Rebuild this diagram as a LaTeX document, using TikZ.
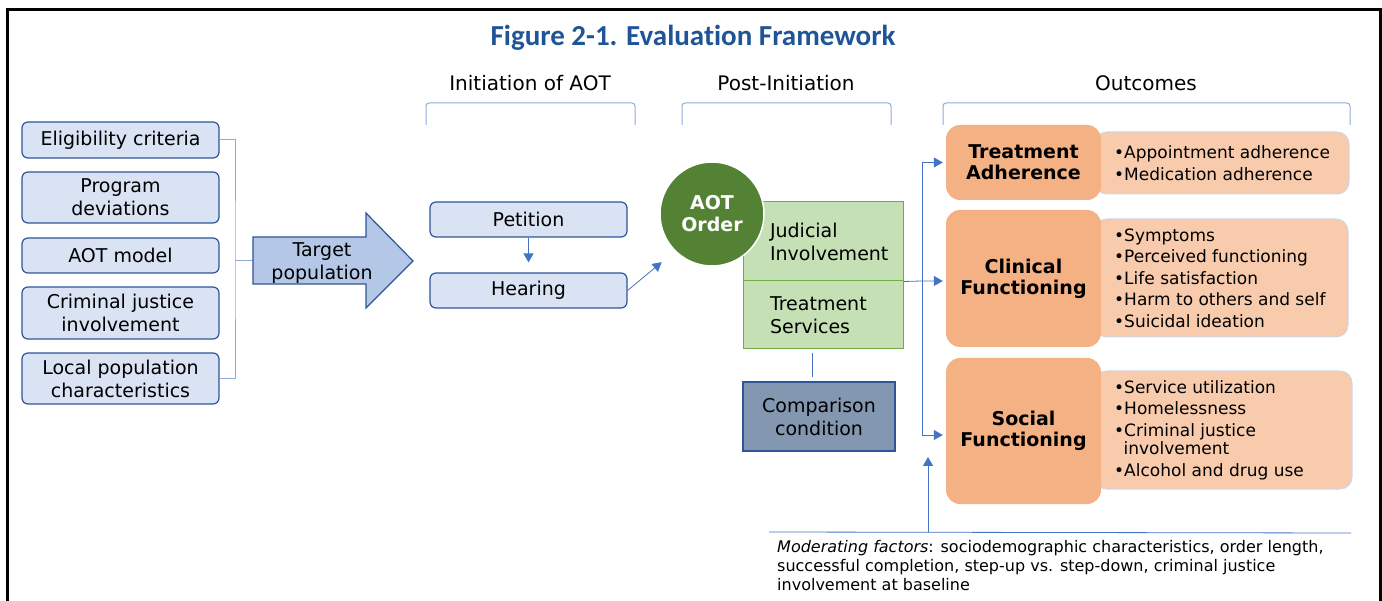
\documentclass[tikz,border=0pt]{standalone}
\usepackage{fontspec}
\setmainfont{DejaVu Sans}
\newfontfamily\titlefont[Ligatures=NoCommon]{Carlito}
\usetikzlibrary{arrows.meta}

\definecolor{titleblue}{RGB}{31,85,150}
\definecolor{boxblue}{RGB}{218,227,243}
\definecolor{edgeblue}{RGB}{47,85,151}
\definecolor{lineblue}{RGB}{143,170,220}
\definecolor{arrowblue}{RGB}{68,114,196}
\definecolor{arrowfill}{RGB}{180,199,231}
\definecolor{aotgreen}{RGB}{84,130,53}
\definecolor{lightgreen}{RGB}{197,224,180}
\definecolor{edgegreen}{RGB}{112,173,71}
\definecolor{compfill}{RGB}{132,151,176}
\definecolor{darkorange}{RGB}{244,177,131}
\definecolor{lightorange}{RGB}{248,203,173}
\definecolor{lightedge}{RGB}{205,214,234}

\begin{document}
\begin{tikzpicture}[x=1pt,y=-1pt,
	font=\fontsize{19}{23}\selectfont,
	inbox/.style={draw=edgeblue,fill=boxblue,rounded corners=6pt,line width=1.2pt,align=center,inner sep=0pt},
	greenbox/.style={draw=edgegreen,fill=lightgreen,line width=1pt,minimum width=160pt,text width=106pt,align=left,inner sep=0pt},
	outbox/.style={fill=darkorange,rounded corners=14pt,minimum width=155pt,align=center,font=\fontsize{19}{21}\selectfont\bfseries},
	listbox/.style={draw=lightedge,fill=lightorange,rounded corners=12pt,line width=1pt},
	bullets/.style={align=left,anchor=west,inner sep=0pt,font=\fontsize{17}{21.5}\selectfont},
	bracket/.style={draw=lineblue,line width=1pt,rounded corners=3pt},
	conn/.style={draw=arrowblue,line width=0.8pt,-{Triangle[width=10pt,length=9pt]}}]
	\useasboundingbox (0,0) rectangle (1382,601);
	\draw[line width=3pt] (7,601)--(7,10)--(1380,10)--(1380,601);
	
	\node[font=\titlefont\fontsize{29}{33}\selectfont\bfseries,text=titleblue] (title) at (693,38) {Figure 2-1. Evaluation Framework};
	
	\node[font=\fontsize{20}{24}\selectfont] (hinit) at (530,83) {Initiation of AOT};
	\node[font=\fontsize{20}{24}\selectfont] (hpost) at (786,83) {Post-Initiation};
	\node[font=\fontsize{20}{24}\selectfont] (hout) at (1146,83) {Outcomes};
	\draw[bracket] (426,125) |- (635,103) -- (635,125);
	\draw[bracket] (682,125) |- (891,103) -- (891,125);
	\draw[bracket] (943,125) |- (1350,103) -- (1350,125);
	
	\node[inbox,minimum width=197pt,minimum height=36pt] (elig) at (120.5,140) {Eligibility criteria};
	\node[inbox,minimum width=197pt,minimum height=51pt] (prog) at (120.5,197.5) {Program \\ deviations};
	\node[inbox,minimum width=197pt,minimum height=35pt] (model) at (120.5,255.5) {AOT model};
	\node[inbox,minimum width=197pt,minimum height=52pt] (crim) at (120.5,313) {Criminal justice \\ involvement};
	\node[inbox,minimum width=197pt,minimum height=51pt] (local) at (120.5,378.5) {Local population \\ characteristics};
	
	\coordinate (lbar) at (235,261);
	\coordinate (ttail) at (253,261);
	\draw[lineblue,line width=1pt] (elig.east) -| (lbar) |- (local.east);
	\draw[lineblue,line width=1pt] (lbar) -- (ttail);
	
	\draw[draw=edgeblue,fill=arrowfill,line width=1.2pt] (253,237)--(366,237)--(366,213)--(413,261)--(366,308)--(366,284)--(253,284)--cycle;
	\node[align=center,inner sep=0pt] (target) at (322,263) {Target \\ population};
	
	\node[inbox,minimum width=197pt,minimum height=35pt] (petition) at (528.5,219.5) {Petition};
	\node[inbox,minimum width=197pt,minimum height=35pt] (hearing) at (528.5,290.5) {Hearing};
	\draw[conn,shorten >=10pt] (petition.south) -- (hearing.north);
	
	\node[greenbox,minimum height=79pt] (judicial) at (823,241.5) {Judicial \\ Involvement};
	\node[greenbox,minimum height=68pt] (services) at (823,315) {Treatment \\ Services};
	\node[circle,fill=aotgreen,draw=white,line width=1.5pt,minimum size=104pt,inner sep=0pt,align=center,text=white,font=\fontsize{19}{22}\selectfont\bfseries] (aot) at (712,214) {AOT \\ Order};
	\draw[conn,shorten >=17pt] (hearing.east) -- (aot.south west);
	
	\node[inbox,rounded corners=0pt,fill=compfill,minimum width=152pt,minimum height=69pt] (comp) at (819,416.5) {Comparison \\ condition};
	\draw[arrowblue,line width=0.8pt,shorten <=4pt,shorten >=4pt] (services.south -| 812,0) -- (comp.north -| 812,0);
	
	\node[listbox,minimum width=254pt,minimum height=62pt] (tadlist) at (1222,163) {};
	\node[listbox,minimum width=253pt,minimum height=118pt] (clinlist) at (1221.5,278) {};
	\node[listbox,minimum width=257pt,minimum height=118pt] (soclist) at (1223.5,430) {};
	\node[outbox,minimum height=75pt] (tad) at (1023.5,162.5) {Treatment \\ Adherence};
	\node[outbox,minimum height=137pt] (clin) at (1023.5,278.5) {Clinical \\ Functioning};
	\node[outbox,minimum height=146pt] (soc) at (1023.5,431) {Social \\ Functioning};
	
	\node[bullets] (tadtext) at (1114,163) {•Appointment adherence \\ •Medication adherence};
	\node[bullets] (clintext) at (1114,278) {•Symptoms \\ •Perceived functioning \\ •Life satisfaction \\ •Harm to others and self \\ •Suicidal ideation};
	\node[bullets] (soctext) at (1114,430) {•Service utilization \\ •Homelessness \\ •Criminal justice \\[-3pt] \hspace*{0.55em}involvement \\ •Alcohol and drug use};
	
	\coordinate (obar) at (922,281);
	\draw[conn,shorten >=3pt] (judicial.south east) -- (obar) -- (obar -| clin.west);
	\draw[conn,shorten >=3pt] (obar) |- (tad.west);
	\draw[conn,shorten >=3pt] (obar) |- ([yshift=-4pt]soc.west);
	
	\coordinate (modl) at (769,532);
	\coordinate (modr) at (1351,533);
	\coordinate (modup) at (928,532);
	\coordinate (modtip) at (928,457);
	\draw[arrowblue,line width=0.8pt] (modl) -- (modr);
	\draw[conn] (modup) -- (modtip);
	\node[align=left,anchor=north west,inner sep=0pt,font=\fontsize{16}{19}\selectfont] (modtext) at (777,540) {\textit{Moderating factors}: sociodemographic characteristics, order length, \\ successful completion, step-up vs. step-down, criminal justice \\ involvement at baseline};
\end{tikzpicture}
\end{document}
